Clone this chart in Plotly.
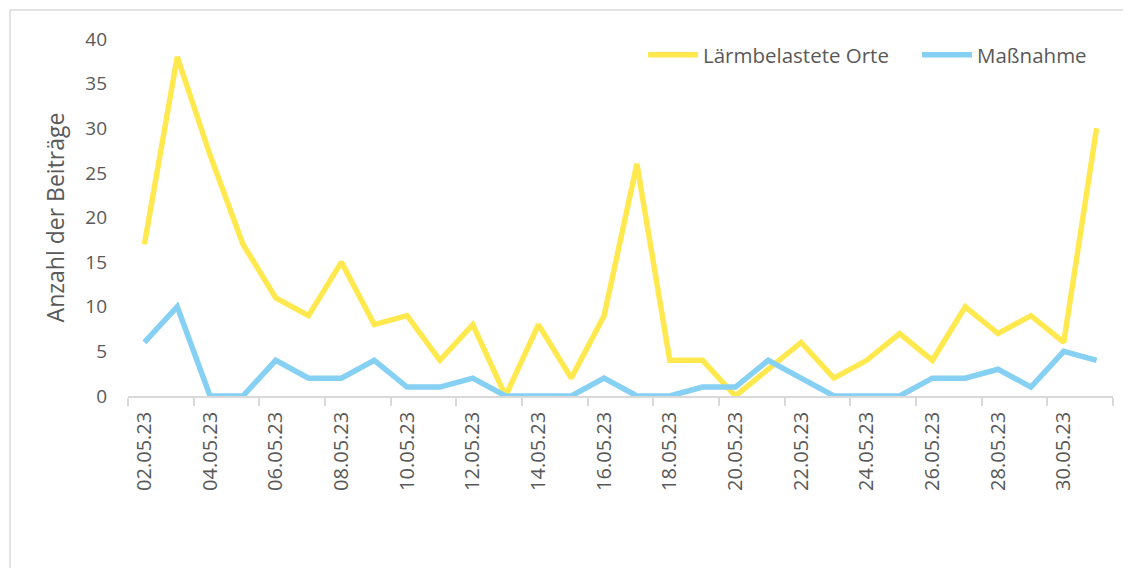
import plotly.graph_objects as go

dates = ["02.05.23", "03.05.23", "04.05.23", "05.05.23", "06.05.23", "07.05.23",
         "08.05.23", "09.05.23", "10.05.23", "11.05.23", "12.05.23", "13.05.23",
         "14.05.23", "15.05.23", "16.05.23", "17.05.23", "18.05.23", "19.05.23",
         "20.05.23", "21.05.23", "22.05.23", "23.05.23", "24.05.23", "25.05.23",
         "26.05.23", "27.05.23", "28.05.23", "29.05.23", "30.05.23", "31.05.23"]
laerm = [17, 38, 27, 17, 11, 9, 15, 8, 9, 4, 8, 0, 8, 2, 9, 26, 4, 4, 0, 3,
         6, 2, 4, 7, 4, 10, 7, 9, 6, 30]
massnahme = [6, 10, 0, 0, 4, 2, 2, 4, 1, 1, 2, 0, 0, 0, 2, 0, 0, 1, 1, 4,
             2, 0, 0, 0, 2, 2, 3, 1, 5, 4]
y_ticks = [0, 5, 10, 15, 20, 25, 30, 35, 40]

idx = list(range(len(dates)))

fig = go.Figure()
fig.add_trace(go.Scatter(x=idx, y=laerm, mode="lines", name="Lärmbelastete Orte",
                         line=dict(color="#FFE94F", width=5.5)))
fig.add_trace(go.Scatter(x=idx, y=massnahme, mode="lines", name="Maßnahme",
                         line=dict(color="#86D0F4", width=5.5)))

# page body has an 8px margin in the browser; compensate
OFF = 8
L, R, T, B = 128, 1113, 39, 396
W, H = 1131, 568
pw, ph = R - L, B - T

fig.update_layout(
    width=W, height=H,
    margin=dict(l=L - OFF, r=W - R + OFF, t=T - OFF, b=H - B + OFF, autoexpand=False),
    paper_bgcolor="white", plot_bgcolor="white",
    font=dict(family="Open Sans", color="#595959", size=20),
    showlegend=True,
    legend=dict(orientation="h", x=(643 - L) / pw, xanchor="left",
                y=1 - 16 / ph, yanchor="middle",
                font=dict(size=20.5, color="#595959"), bgcolor="rgba(0,0,0,0)",
                itemwidth=50, entrywidth=209),
    shapes=[dict(type="rect", xref="paper", yref="paper",
                 x0=(10 - L) / pw, x1=1.3, y0=-1.0, y1=(B - 10) / ph,
                 line=dict(color="#d9d9d9", width=1.5), fillcolor="rgba(0,0,0,0)",
                 layer="below")],
)

fig.update_xaxes(
    range=[-0.5, len(dates) - 0.5],
    tickmode="array", tickvals=idx[::2], ticktext=dates[::2],
    tickangle=-90, ticks="", showgrid=False, zeroline=False,
    showline=True, linecolor="#d9d9d9", linewidth=1.5,
    tickfont=dict(family="Open Sans", size=20, color="#595959"),
    ticklabelstandoff=6,
    minor=dict(tickmode="array", tickvals=[i - 0.5 for i in range(0, len(dates) + 1, 2)],
               ticks="outside", ticklen=8, tickcolor="#d9d9d9", tickwidth=1.5, showgrid=False),
)
fig.update_yaxes(
    range=[0, 40], tickmode="array", tickvals=y_ticks,
    showgrid=False, zeroline=False, showline=False, ticks="",
    tickfont=dict(family="Open Sans", size=19, color="#595959"),
    ticklabelstandoff=20,
    title=dict(text="Anzahl der Beiträge", font=dict(family="Open Sans", size=23, color="#595959"),
               standoff=14),
)

fig.write_html("out.html")
